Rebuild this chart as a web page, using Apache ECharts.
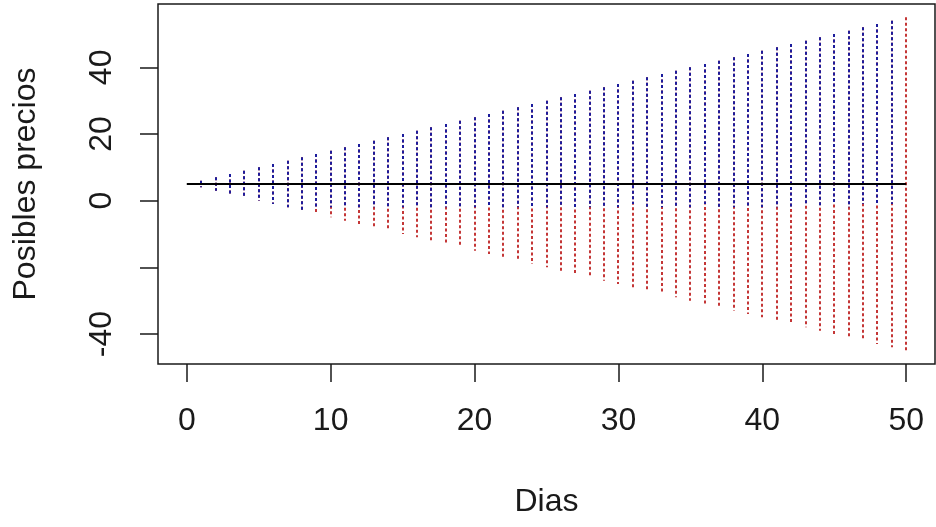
<!DOCTYPE html>
<html>
<head>
<meta charset="utf-8">
<script src="https://cdn.jsdelivr.net/npm/echarts@6/dist/echarts.min.js"></script>
<style>
    html, body { margin: 0; padding: 0; background: #fff; }
    #chart { width: 936px; height: 527px; }
</style>
</head>
<body>
<div id="chart"></div>
<script>
// days on the x axis
const days = [0, 1, 2, 3, 4, 5, 6, 7, 8, 9, 10, 11, 12, 13, 14, 15, 16, 17, 18, 19, 20,
    21, 22, 23, 24, 25, 26, 27, 28, 29, 30, 31, 32, 33, 34, 35, 36, 37, 38, 39, 40,
    41, 42, 43, 44, 45, 46, 47, 48, 49, 50];

// highest and lowest possible price per day
const upper = [5, 6, 7, 8, 9, 10, 11, 12, 13, 14, 15, 16, 17, 18, 19, 20, 21, 22, 23, 24, 25,
    26, 27, 28, 29, 30, 31, 32, 33, 34, 35, 36, 37, 38, 39, 40, 41, 42, 43, 44, 45,
    46, 47, 48, 49, 50, 51, 52, 53, 54, 55];
const lower = [5, 4, 3, 2, 1, 0, -1, -2, -3, -4, -5, -6, -7, -8, -9, -10, -11, -12, -13, -14, -15,
    -16, -17, -18, -19, -20, -21, -22, -23, -24, -25, -26, -27, -28, -29, -30, -31, -32, -33, -34, -35,
    -36, -37, -38, -39, -40, -41, -42, -43, -44, -45];

// where the blue (upper) dotted segment stops, days 0..49
const blue_low = [5, 4, 3, 2, 1, 0, -1, -2, -3, -2, -2, -2, -2, -2, -2, -2, -2, -2, -2, -2,
    -2, -2, -2, -2, -2, -2, -2, -2, -2, -2, -2, -1, -2, -2, -2, -2, -1, -2, -2, -2,
    -2, -2, -2, -1, -2, -1, -2, -1, -1, -1];

// starting price, drawn as the solid line
const base_days = [0, 50];
const base_price = [5, 5];

const y_ticks = [-40, -20, 0, 20, 40];
const y_labels = [-40, 0, 20, 40];
const x_ticks = [0, 10, 20, 30, 40, 50];

const FONT = "Liberation Sans";
const INK = "#1a1a1a";

const red_rows = days.map((d, i) => [d, lower[i], upper[i]]);
const blue_rows = blue_low.map((lo, i) => [days[i], lo, upper[i]]);

function dotted(color) {
    return (params, api) => {
        const top = api.coord([api.value(0), api.value(2)]);
        const bot = api.coord([api.value(0), api.value(1)]);
        const x = Math.round(top[0]);
        return {
            type: "line",
            shape: { x1: x, y1: top[1], x2: x, y2: bot[1] },
            style: { stroke: color, lineWidth: 2, lineDash: [3, 2.5] },
        };
    };
}

const chart = echarts.init(document.getElementById("chart"), null, { renderer: "canvas" });

chart.setOption({
    animation: false,
    textStyle: { fontFamily: FONT, color: INK },
    grid: {
        left: 158, right: 1, top: 4, bottom: 163,
        show: true, borderColor: INK, borderWidth: 1.5, backgroundColor: "transparent",
    },
    xAxis: {
        type: "value", min: -2, max: 52,
        splitLine: { show: false },
        axisLine: { show: false, onZero: false },
        axisTick: { show: true, length: 18, lineStyle: { color: INK, width: 1.5 }, customValues: x_ticks },
        axisLabel: { fontSize: 32, color: INK, margin: 41, customValues: x_ticks, fontFamily: FONT },
        name: "Dias", nameLocation: "middle", nameGap: 122,
        nameTextStyle: { fontSize: 32, color: INK, fontFamily: FONT },
    },
    yAxis: {
        type: "value", min: -49, max: 59,
        splitLine: { show: false },
        axisLine: { show: false, onZero: false },
        axisTick: { show: true, length: 18, lineStyle: { color: INK, width: 1.5 }, customValues: y_ticks },
        axisLabel: { fontSize: 32, color: INK, margin: 40, rotate: 90, customValues: y_labels, fontFamily: FONT },
        name: "Posibles precios", nameLocation: "middle", nameGap: 116, nameRotate: 90,
        nameTextStyle: { fontSize: 32, color: INK, fontFamily: FONT },
    },
    series: [
        { type: "custom", data: red_rows, renderItem: dotted("#c43636"), z: 1 },
        { type: "custom", data: blue_rows, renderItem: dotted("#1c1c9c"), z: 2 },
        {
            type: "line", data: base_days.map((d, i) => [d, base_price[i]]),
            symbol: "none", lineStyle: { color: "#000", width: 2 }, z: 3,
        },
    ],
});
</script>
</body>
</html>
